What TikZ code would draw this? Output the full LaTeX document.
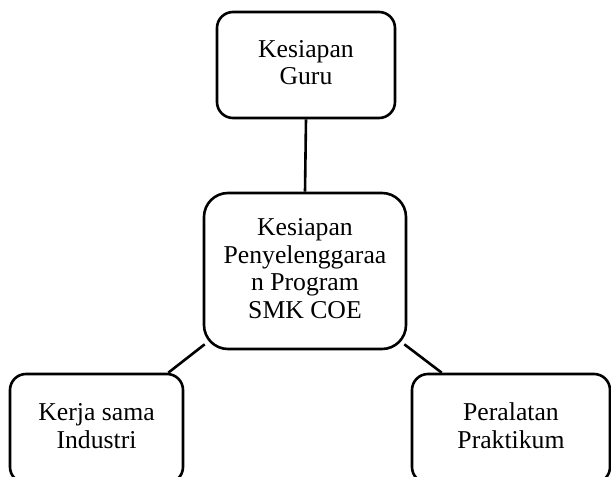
\documentclass[tikz,border=0pt]{standalone}
\usepackage{fontspec}
\setmainfont{Liberation Serif}
\usetikzlibrary{calc}
\newcommand{\mystrut}{\rule[-5.5pt]{0pt}{22pt}}
\tikzset{
  boxnode/.style={draw=black, line width=2.6pt, rounded corners=16pt, inner sep=0pt,
    align=center, font=\fontsize{25.7}{27.5}\selectfont},
  link/.style={draw=black, line width=2.6pt}
}
\begin{document}
\begin{tikzpicture}[x=1pt,y=-1pt]
\useasboundingbox (0,0) rectangle (611,477);
\clip (0,0) rectangle (611,477);
\fill[white] (0,0) rectangle (611,477);
\node[boxnode, minimum width=178pt, minimum height=106pt] (T) at (306,65)
  {\mystrut Kesiapan\\\mystrut Guru};
\node[boxnode, rounded corners=24pt, minimum width=202pt, minimum height=156pt] (C) at (305,271)
  {\mystrut Kesiapan\\\mystrut Penyelenggaraa\\\mystrut n Program\\\mystrut SMK COE};
\node[boxnode, minimum width=173pt, minimum height=109pt] (L) at (96.5,428.5)
  {\mystrut Kerja sama\\\mystrut Industri};
\node[boxnode, minimum width=198pt, minimum height=109pt] (R) at (511,428.5)
  {\mystrut Peralatan\\\mystrut Praktikum};
\draw[link] (T.south) -- (C.north);
\draw[link] ($(L.north east)+(-16,0)$) -- ($(C.south west)+(2,-6)$);
\draw[link] ($(R.north west)+(31,0)$) -- ($(C.south east)+(-3,-6)$);
\end{tikzpicture}
\end{document}
